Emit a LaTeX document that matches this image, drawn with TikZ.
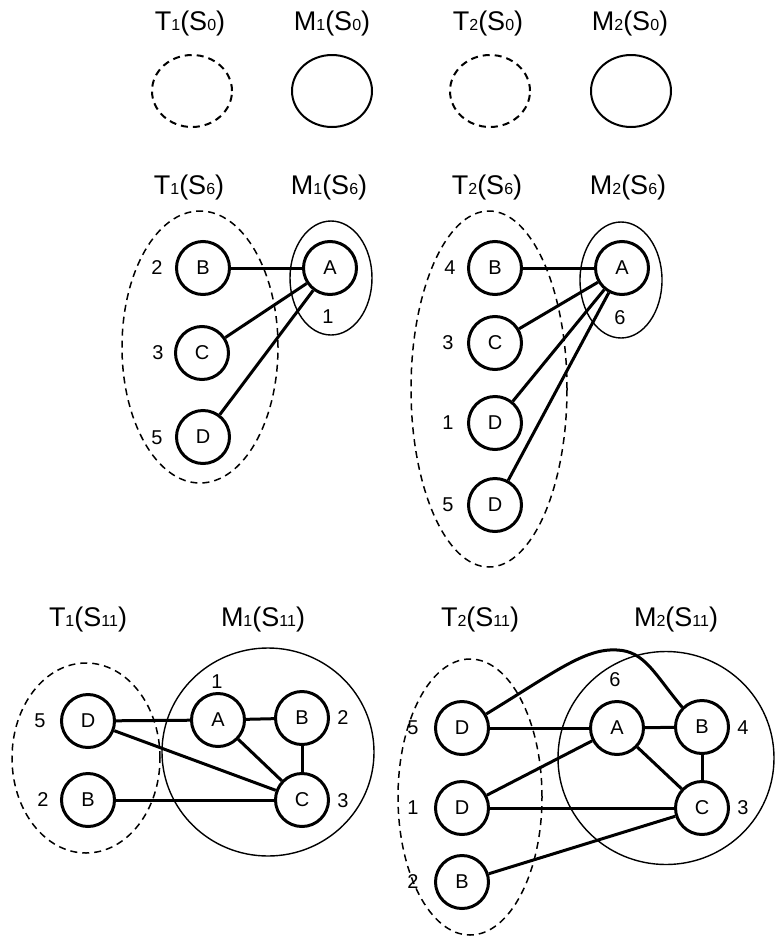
\documentclass[tikz,border=0pt]{standalone}
\usepackage{fontspec}
\setmainfont{Liberation Sans}
\usetikzlibrary{shapes.geometric}
\newcommand{\ix}[1]{{\fontsize{16pt}{16pt}\selectfont #1}}
\newcommand{\setname}[3]{#1\ix{#2}(S\ix{#3})}

\begin{document}
\begin{tikzpicture}[
		x=1pt, y=-1pt,
		vertex/.style={
				draw,
				circle,
				line width=3pt,
				minimum size=53pt,
				inner sep=0pt,
				font=\fontsize{20pt}{20pt}\selectfont
			},
		edge/.style={
				line width=3pt
			},
		tset/.style={
				draw,
				ellipse,
				dash pattern=on 7pt off 5pt,
				line width=1.5pt,
				inner sep=0pt
			},
		mset/.style={
				draw,
				ellipse,
				line width=1.4pt,
				inner sep=0pt
			},
		title/.style={
				font=\fontsize{27pt}{27pt}\selectfont
			},
		num/.style={
				font=\fontsize{20pt}{20pt}\selectfont
			}
	]
	\useasboundingbox (0,0) rectangle (775,937);

	% S0
	\node[title] (t1s0) at (190,24) {\setname{T}{1}{0}};
	\node[title] (m1s0) at (332,24) {\setname{M}{1}{0}};
	\node[title] (t2s0) at (488,24) {\setname{T}{2}{0}};
	\node[title] (m2s0) at (630,24) {\setname{M}{2}{0}};
	\node[tset, line width=2pt, minimum width=80pt, minimum height=72pt] (t1s0set) at (192,91) {};
	\node[mset, line width=2pt, minimum width=80pt, minimum height=72pt] (m1s0set) at (332,91) {};
	\node[tset, line width=2pt, minimum width=80pt, minimum height=72pt] (t2s0set) at (490,91) {};
	\node[mset, line width=2pt, minimum width=80pt, minimum height=72pt] (m2s0set) at (631,91) {};

	% S6
	\node[title] (t1s6) at (189,188) {\setname{T}{1}{6}};
	\node[title] (m1s6) at (329,188) {\setname{M}{1}{6}};
	\node[tset, minimum width=156pt, minimum height=272pt] (t1s6set) at (200,347) {};
	\node[mset, minimum width=82pt, minimum height=114pt] (m1s6set) at (331,278) {};
	\node[vertex] (a6B) at (203,268) {B};
	\node[vertex] (a6C) at (202,353) {C};
	\node[vertex] (a6D) at (203,437) {D};
	\node[vertex] (a6A) at (330,268) {A};
	\node[num] (a6n2) at (157,268) {2};
	\node[num] (a6n3) at (158,353) {3};
	\node[num] (a6n5) at (157,438) {5};
	\node[num] (a6n1) at (328,317) {1};
	\draw[edge] (a6B) -- (a6A);
	\draw[edge] (a6C) -- (a6A);
	\draw[edge] (a6D) -- (a6A);

	\node[title] (t2s6) at (487,188) {\setname{T}{2}{6}};
	\node[title] (m2s6) at (628,188) {\setname{M}{2}{6}};
	\node[tset, minimum width=156pt, minimum height=356pt] (t2s6set) at (489,389) {};
	\node[mset, minimum width=82pt, minimum height=116pt] (m2s6set) at (621,280) {};
	\node[vertex] (b6B) at (495,268) {B};
	\node[vertex] (b6C) at (495,343) {C};
	\node[vertex] (b6D1) at (495,423) {D};
	\node[vertex] (b6D2) at (495,505) {D};
	\node[vertex] (b6A) at (622,268) {A};
	\node[num] (b6n4) at (450,268) {4};
	\node[num] (b6n3) at (448,343) {3};
	\node[num] (b6n1) at (448,423) {1};
	\node[num] (b6n5) at (448,505) {5};
	\node[num] (b6n6) at (620,318) {6};
	\draw[edge] (b6B) -- (b6A);
	\draw[edge] (b6C) -- (b6A);
	\draw[edge] (b6D1) -- (b6A);
	\draw[edge] (b6D2) -- (b6A);

	% S11
	\node[title] (t1s11) at (88,620) {\setname{T}{1}{11}};
	\node[title] (m1s11) at (263,620) {\setname{M}{1}{11}};
	\node[tset, minimum width=148pt, minimum height=190pt] (t1s11set) at (86,758) {};
	\node[mset, minimum width=212pt, minimum height=208pt] (m1s11set) at (268,752) {};
	\node[vertex] (a11D) at (88,721) {D};
	\node[vertex] (a11Bt) at (88,800) {B};
	\node[vertex] (a11A) at (218,720) {A};
	\node[vertex] (a11B) at (302,718) {B};
	\node[vertex] (a11C) at (302,800) {C};
	\node[num] (a11n5) at (40,721) {5};
	\node[num] (a11n2t) at (43,800) {2};
	\node[num] (a11n1) at (217,682) {1};
	\node[num] (a11n2) at (343,718) {2};
	\node[num] (a11n3) at (343,801) {3};
	\draw[edge] (a11D) -- (a11A);
	\draw[edge] (a11D) -- (a11C);
	\draw[edge] (a11Bt) -- (a11C);
	\draw[edge] (a11A) -- (a11B);
	\draw[edge] (a11A) -- (a11C);
	\draw[edge] (a11B) -- (a11C);

	\node[title] (t2s11) at (480,620) {\setname{T}{2}{11}};
	\node[title] (m2s11) at (676,620) {\setname{M}{2}{11}};
	\node[tset, minimum width=144pt, minimum height=276pt] (t2s11set) at (470,797) {};
	\node[mset, minimum width=216pt, minimum height=213pt] (m2s11set) at (666,758) {};
	\node[vertex] (b11D1) at (462,728) {D};
	\node[vertex] (b11D2) at (462,808) {D};
	\node[vertex] (b11Bt) at (462,882) {B};
	\node[vertex] (b11A) at (617,728) {A};
	\node[vertex] (b11B) at (702,727) {B};
	\node[vertex] (b11C) at (702,808) {C};
	\node[num] (b11n5) at (413,728) {5};
	\node[num] (b11n1) at (413,808) {1};
	\node[num] (b11n2) at (413,882) {2};
	\node[num] (b11n6) at (615,680) {6};
	\node[num] (b11n4) at (743,728) {4};
	\node[num] (b11n3) at (743,808) {3};
	\draw[edge] (b11D1) -- (b11A);
	\draw[edge] (b11D1.30) .. controls (555,672) and (585,648) .. (617,650)
		.. controls (645,651) and (655,675) .. (b11B.135);
	\draw[edge] (b11D2) -- (b11A);
	\draw[edge] (b11D2) -- (b11C);
	\draw[edge] (b11Bt) -- (b11C);
	\draw[edge] (b11A) -- (b11B);
	\draw[edge] (b11A) -- (b11C);
	\draw[edge] (b11B) -- (b11C);
\end{tikzpicture}
\end{document}
